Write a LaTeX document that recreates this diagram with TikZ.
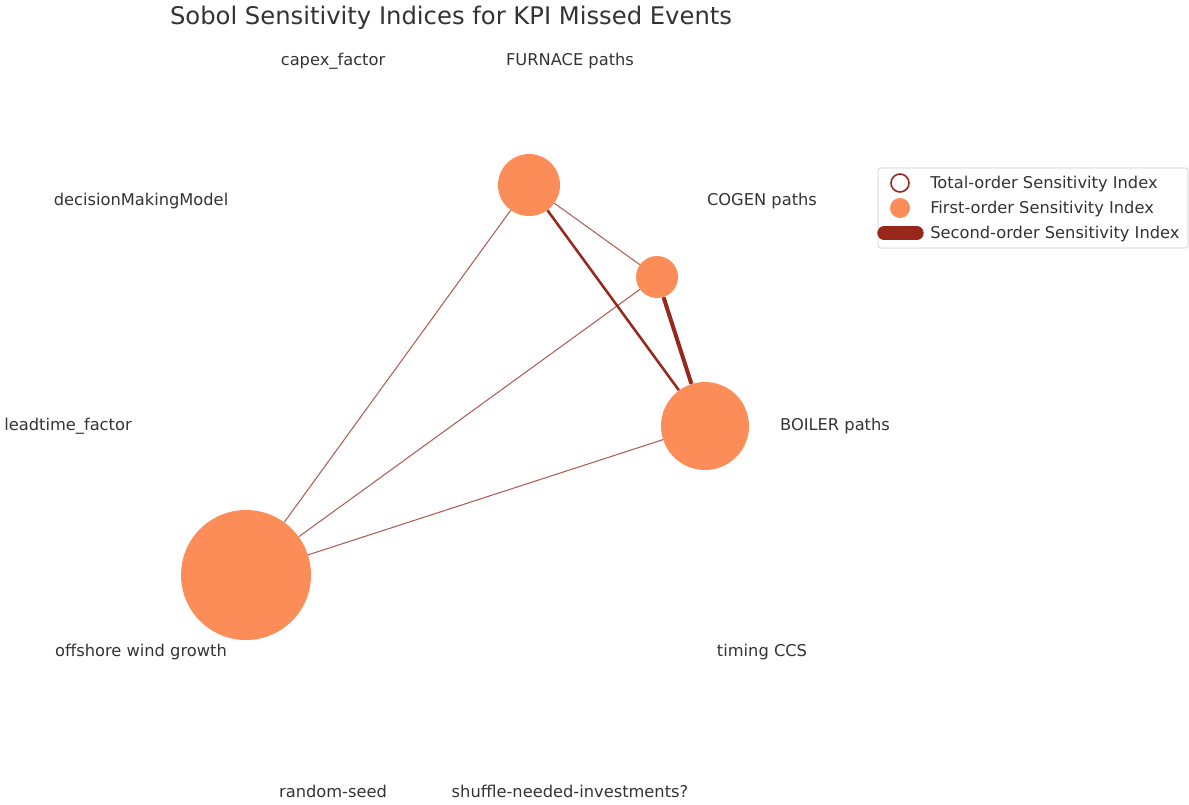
\documentclass[tikz,border=0pt]{standalone}
\usepackage{fontspec}
\setmainfont{DejaVu Sans}
\usetikzlibrary{positioning}
\definecolor{firstord}{HTML}{FC8D59}
\definecolor{secondord}{HTML}{99281C}
\definecolor{labelgray}{HTML}{333333}

\begin{document}
\begin{tikzpicture}[
  x = 0.75pt, y = -0.75pt,
  param/.style = {font=\fontsize{12.2}{14}\selectfont, text=labelgray,
                  inner sep=0pt},
   sobol/.style = {circle, fill=firstord, inner sep=0pt,
                   minimum size=#1*1.5pt},
    weak/.style = {draw=secondord!75, line width=0.8pt},
  strong/.style = {draw=secondord, line width=#1}
                   ]
\useasboundingbox (0,0) rectangle (1189,804);
% title
\node[font=\fontsize{18.2}{21}\selectfont, text=labelgray] (title) at (451,18)
     {Sobol Sensitivity Indices for KPI Missed Events};
% parameter names
\foreach \n/\x/\y/\t in {capex/333/61/capex\_factor,
                         furnlab/570/61/FURNACE paths,
                         decision/141/201/decisionMakingModel,
                         cogenlab/762/201/COGEN paths,
                         leadtime/68/426/leadtime\_factor,
                         boillab/835/426/BOILER paths,
                         windlab/141/652/offshore wind growth,
                         ccs/762/652/timing CCS,
                         seed/333/791/random-seed,
                         shuffle/570/791/shuffle-needed-investments?}
    \node[param] (\n) at (\x,\y) {\t};
% first-order indices
\node[sobol=31] (furnace)  at (529,185) {};
\node[sobol=21] (cogen)    at (657,277) {};
\node[sobol=44] (boiler)   at (705,426) {};
\node[sobol=65] (offshore) at (246,575) {};
% second-order indices
\draw[weak] (furnace) -- (offshore);
\draw[weak] (furnace) -- (cogen);
\draw[weak] (cogen) -- (offshore);
\draw[weak] (boiler) -- (offshore);
\draw[strong=1.9pt] (furnace) -- (boiler);
\draw[strong=3pt] (cogen) -- (boiler);
% legend
\node[draw=black!20, rounded corners=2pt, minimum width=310*0.75pt,
      minimum height=80*0.75pt, inner sep=0pt] (legend) at (1033,208) {};
\node[circle, draw=secondord, line width=1.2pt, minimum size=13.5pt,
      inner sep=0pt] (ltotal) at (900,183) {};
\node[circle, fill=firstord, minimum size=15pt, inner sep=0pt]
     (lfirst) at (900,208) {};
\coordinate (lsecA) at (884,233);
\coordinate (lsecB) at (917,233);
\draw[secondord, line width=10pt, line cap=round] (lsecA) -- (lsecB);
\node[param, anchor=west] (ttotal) at (930,184) {Total-order Sensitivity Index};
\node[param, anchor=west] (tfirst) at (930,209) {First-order Sensitivity Index};
\node[param, anchor=west] (tsec)   at (930,234) {Second-order Sensitivity Index};
\end{tikzpicture}
\end{document}
